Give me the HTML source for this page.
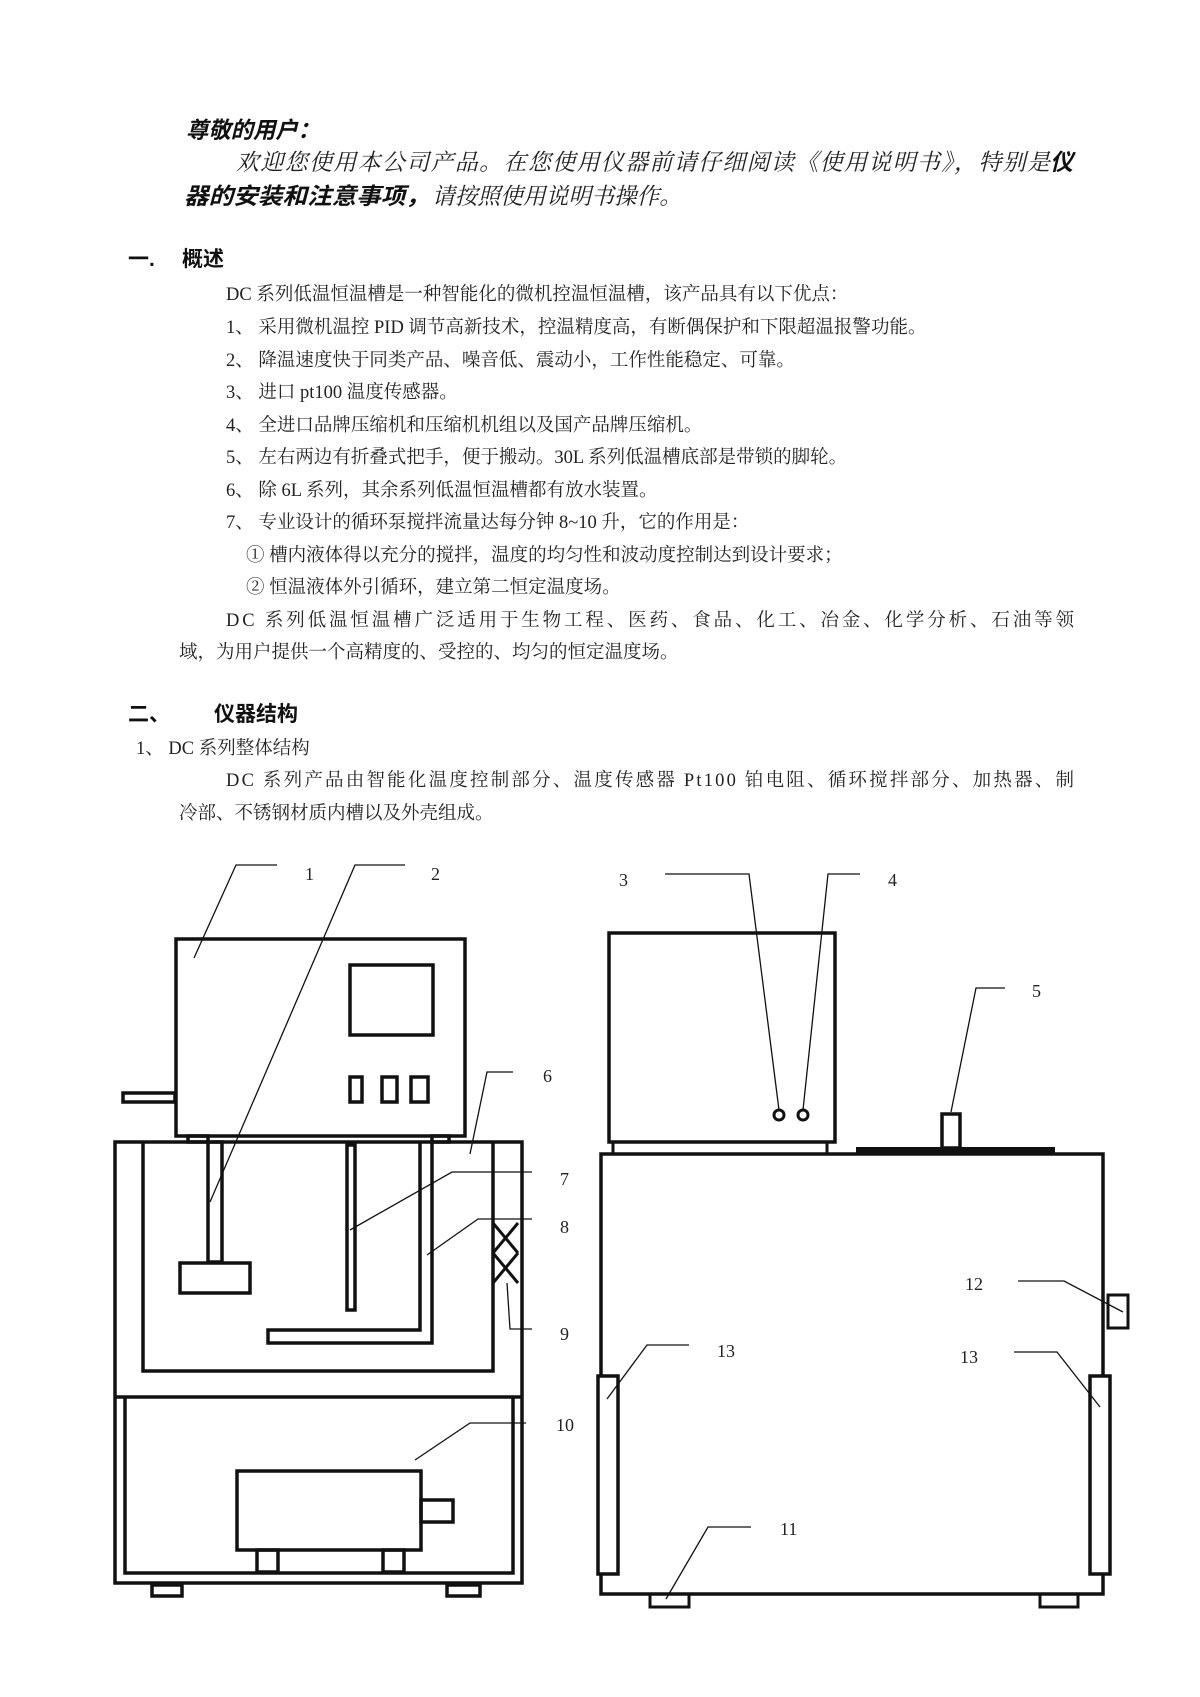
<!DOCTYPE html>
<html><head><meta charset="utf-8"><style>
html,body{margin:0;padding:0;background:#fff;}
svg{display:block;}
.b{font-family:"Liberation Serif","Noto Serif CJK SC",serif;font-size:18.5px;fill:#222;}
.it{font-family:"Liberation Serif","Noto Serif CJK SC",serif;font-size:23px;font-style:italic;fill:#222;}
.bi{font-family:"Liberation Sans","Noto Sans CJK SC",sans-serif;font-size:23px;font-style:italic;font-weight:bold;fill:#111;}
.h{font-family:"Liberation Sans","Noto Sans CJK SC",sans-serif;font-size:21px;font-weight:bold;fill:#111;}
.n{font-family:"Liberation Serif",serif;font-size:18px;fill:#222;}
</style></head><body>
<svg width="1200" height="1697" xmlns="http://www.w3.org/2000/svg">
<text class="bi" x="186" y="138" textLength="134" lengthAdjust="spacingAndGlyphs">尊敬的用户：</text>
<text class="it" x="236" y="170" textLength="814" lengthAdjust="spacing">欢迎您使用本公司产品。在您使用仪器前请仔细阅读《使用说明书》，特别是</text>
<text class="bi" x="1050" y="170">仪</text>
<text class="bi" x="184" y="204" textLength="246" lengthAdjust="spacingAndGlyphs">器的安装和注意事项，</text>
<text class="it" x="432" y="204" textLength="250" lengthAdjust="spacingAndGlyphs">请按照使用说明书操作。</text>

<text class="h" x="128" y="266">一.</text><text class="h" x="182" y="266">概述</text>
<text class="b" x="226" y="300">DC 系列低温恒温槽是一种智能化的微机控温恒温槽，该产品具有以下优点：</text>
<text class="b" x="226" y="333">1、 采用微机温控 PID 调节高新技术，控温精度高，有断偶保护和下限超温报警功能。</text>
<text class="b" x="226" y="366">2、 降温速度快于同类产品、噪音低、震动小，工作性能稳定、可靠。</text>
<text class="b" x="226" y="398">3、 进口 pt100 温度传感器。</text>
<text class="b" x="226" y="431">4、 全进口品牌压缩机和压缩机机组以及国产品牌压缩机。</text>
<text class="b" x="226" y="463">5、 左右两边有折叠式把手，便于搬动。30L 系列低温槽底部是带锁的脚轮。</text>
<text class="b" x="226" y="496">6、 除 6L 系列，其余系列低温恒温槽都有放水装置。</text>
<text class="b" x="226" y="528">7、 专业设计的循环泵搅拌流量达每分钟 8~10 升，它的作用是：</text>
<text class="b" x="246" y="561">① 槽内液体得以充分的搅拌，温度的均匀性和波动度控制达到设计要求；</text>
<text class="b" x="246" y="593">② 恒温液体外引循环，建立第二恒定温度场。</text>
<text class="b" x="226" y="626" textLength="848" lengthAdjust="spacing">DC 系列低温恒温槽广泛适用于生物工程、医药、食品、化工、冶金、化学分析、石油等领</text>
<text class="b" x="179" y="658">域，为用户提供一个高精度的、受控的、均匀的恒定温度场。</text>

<text class="h" x="128" y="721">二、</text><text class="h" x="214" y="721">仪器结构</text>
<text class="b" x="136" y="754">1、 DC 系列整体结构</text>
<text class="b" x="226" y="786" textLength="848" lengthAdjust="spacing">DC 系列产品由智能化温度控制部分、温度传感器 Pt100 铂电阻、循环搅拌部分、加热器、制</text>
<text class="b" x="179" y="819">冷部、不锈钢材质内槽以及外壳组成。</text>

<g fill="none" stroke="#111" stroke-width="3.5">
<rect x="176" y="939" width="289" height="197"/>
<rect x="350" y="965" width="83" height="70"/>
<rect x="350" y="1077" width="12" height="25"/>
<rect x="382" y="1077" width="15" height="25"/>
<rect x="411" y="1077" width="17" height="25"/>
<rect x="123" y="1093" width="52" height="9"/>
<rect x="188" y="1136" width="20" height="6"/>
<rect x="432" y="1136" width="17" height="6"/>
<rect x="115" y="1142" width="407" height="441"/>
<path d="M143,1142V1371H493V1142"/>
<line x1="115" y1="1397" x2="522" y2="1397"/>
<path d="M125,1397V1573H513V1397"/>
<rect x="152" y="1585" width="30" height="11"/>
<rect x="447" y="1585" width="33" height="11"/>
<rect x="237" y="1471" width="184" height="79"/>
<rect x="421" y="1500" width="32" height="22"/>
<rect x="257" y="1550" width="21" height="22"/>
<rect x="383" y="1550" width="21" height="22"/>
<rect x="208" y="1142" width="14" height="120"/>
<rect x="180" y="1263" width="70" height="30"/>
<rect x="347" y="1145" width="8" height="165"/>
<path d="M420,1142V1330H268V1343H432V1142"/>
<path d="M493,1223L518,1253M518,1223L493,1253M493,1253L518,1283M518,1253L493,1283" stroke-width="3"/>

<rect x="609" y="933" width="226" height="209"/>
<rect x="613" y="1142" width="214" height="12" stroke-width="3"/>
<rect x="601" y="1154" width="502" height="440"/>
<rect x="942" y="1114" width="18" height="34"/>
<circle cx="779" cy="1115" r="5" stroke-width="3"/>
<circle cx="803" cy="1115" r="5" stroke-width="3"/>
<rect x="1108" y="1295" width="20" height="33" stroke-width="3"/>
<rect x="598" y="1376" width="20" height="198" fill="#fff"/>
<rect x="1090" y="1376" width="20" height="198" fill="#fff"/>
<rect x="650" y="1594" width="39" height="13" stroke-width="3"/>
<rect x="1040" y="1594" width="38" height="13" stroke-width="3"/>
</g>
<rect x="856" y="1147" width="199" height="7" fill="#111"/>

<g fill="none" stroke="#111" stroke-width="1.3">
<polyline points="194,958 236,865 277,865"/>
<polyline points="210,1202 355,865 405,865"/>
<polyline points="470,1154 487,1072 513,1072"/>
<polyline points="350,1230 452,1172 532,1172"/>
<polyline points="427,1255 478,1219 532,1219"/>
<polyline points="507,1283 510,1329 532,1329"/>
<polyline points="415,1460 470,1423 526,1423"/>
<polyline points="665,874 749,874 779,1110"/>
<polyline points="860,874 828,874 803,1110"/>
<polyline points="951,1112 976,988 1005,988"/>
<polyline points="1018,1281 1064,1281 1123,1312"/>
<polyline points="607,1399 647,1345 689,1345"/>
<polyline points="1100,1407 1057,1352 1014,1352"/>
<polyline points="666,1599 708,1527 751,1527"/>
</g>
<g class="n">
<text x="305" y="880">1</text><text x="431" y="880">2</text>
<text x="619" y="886">3</text><text x="888" y="886">4</text>
<text x="1032" y="997">5</text><text x="543" y="1082">6</text>
<text x="560" y="1185">7</text><text x="560" y="1233">8</text>
<text x="560" y="1340">9</text><text x="556" y="1431">10</text>
<text x="780" y="1535">11</text><text x="965" y="1290">12</text>
<text x="717" y="1357">13</text><text x="960" y="1363">13</text>
</g>
</svg>
</body></html>
